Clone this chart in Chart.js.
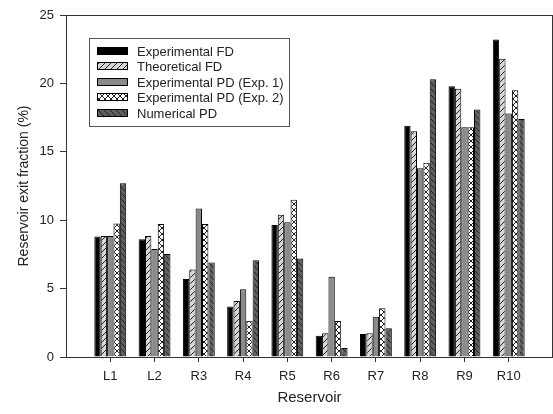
<!DOCTYPE html>
<html>
<head>
<meta charset="utf-8">
<script src="https://cdn.jsdelivr.net/npm/chart.js@4"></script>
<style>
  html, body { margin: 0; padding: 0; background: #fff; }
  #wrap { width: 553px; height: 414px; }
</style>
</head>
<body>
<div id="wrap"><canvas id="chart"></canvas></div>
<script>
// data
const categories = ['L1', 'L2', 'R3', 'R4', 'R5', 'R6', 'R7', 'R8', 'R9', 'R10'];
const experimentalFD = [8.8, 8.6, 5.7, 3.7, 9.65, 1.56, 1.68, 16.9, 19.8, 23.2];
const theoreticalFD  = [8.85, 8.85, 6.4, 4.1, 10.4, 1.73, 1.73, 16.5, 19.6, 21.8];
const experimentalPD1 = [8.85, 7.9, 10.85, 4.95, 9.85, 5.87, 2.95, 13.8, 16.8, 17.8];
const experimentalPD2 = [9.75, 9.72, 9.72, 2.65, 11.5, 2.63, 3.56, 14.2, 16.8, 19.5];
const numericalPD = [12.7, 7.53, 6.9, 7.07, 7.2, 0.66, 2.1, 20.3, 18.1, 17.4];
const yTicks = [0, 5, 10, 15, 20, 25];

// hatch patterns
function makePattern(bg, draw) {
    const c = document.createElement('canvas');
    c.width = 6; c.height = 6;
    const g = c.getContext('2d');
    g.fillStyle = bg;
    g.fillRect(0, 0, 6, 6);
    g.strokeStyle = '#222';
    g.lineWidth = 1;
    g.beginPath();
    draw(g);
    g.stroke();
    return c.getContext('2d').createPattern(c, 'repeat');
}
const slash = g => { g.moveTo(-1, 7); g.lineTo(7, -1); g.moveTo(-1, 1); g.lineTo(1, -1); g.moveTo(5, 7); g.lineTo(7, 5); };
const backslash = g => { g.moveTo(-1, -1); g.lineTo(7, 7); g.moveTo(5, -1); g.lineTo(7, 1); g.moveTo(-1, 5); g.lineTo(1, 7); };

const fillTheo = makePattern('#d6d6d6', slash);
const fillCross = makePattern('#ffffff', g => { slash(g); backslash(g); });
const fillNum = makePattern('#5e5e5e', backslash);

// pad categories so the axis runs from 0 to 11
const labels = ['', ...categories, ''];
const pad = arr => [null, ...arr, null];

const series = [
    { label: 'Experimental FD', data: experimentalFD, fill: '#000000' },
    { label: 'Theoretical FD', data: theoreticalFD, fill: fillTheo },
    { label: 'Experimental PD (Exp. 1)', data: experimentalPD1, fill: '#8a8a8a' },
    { label: 'Experimental PD (Exp. 2)', data: experimentalPD2, fill: fillCross },
    { label: 'Numerical PD', data: numericalPD, fill: fillNum }
];

// legend box and frame lines
const boxLegend = {
    id: 'boxLegend',
    afterDraw(chart) {
        const { ctx, chartArea: { left, right, top, bottom } } = chart;
        ctx.save();
        ctx.strokeStyle = '#333';
        ctx.lineWidth = 1;
        ctx.beginPath();
        ctx.moveTo(left, top + 0.5);
        ctx.lineTo(right, top + 0.5);
        ctx.moveTo(right - 0.5, top);
        ctx.lineTo(right - 0.5, bottom);
        ctx.stroke();

        ctx.strokeStyle = '#555';
        ctx.strokeRect(89.5, 38.5, 200, 88);
        ctx.font = '13px "Liberation Sans", Arial, sans-serif';
        ctx.textBaseline = 'middle';
        chart.data.datasets.forEach((ds, i) => {
            const y = Math.round(50.5 + i * 15.5);
            ctx.fillStyle = ds.backgroundColor;
            ctx.fillRect(97, y - 4, 31, 8);
            ctx.strokeStyle = '#000';
            ctx.strokeRect(97.5, y - 3.5, 30, 7);
            ctx.fillStyle = '#222';
            ctx.fillText(ds.label, 137, y + 1);
        });
        ctx.restore();
    }
};

new Chart(document.getElementById('chart'), {
    type: 'bar',
    data: {
        labels: labels,
        datasets: series.map(s => ({
            label: s.label,
            data: pad(s.data),
            backgroundColor: s.fill,
            borderColor: '#000',
            borderWidth: 1,
            borderSkipped: 'bottom',
            categoryPercentage: 0.72,
            barPercentage: 1
        }))
    },
    options: {
        responsive: true,
        maintainAspectRatio: false,
        animation: false,
        layout: { padding: { top: 15, right: 0, left: 0, bottom: 0 } },
        plugins: {
            legend: { display: false },
            tooltip: { enabled: false }
        },
        scales: {
            x: {
                offset: false,
                afterFit(scale) {
                    scale.height = 57;
                    scale.paddingLeft = 0;
                    scale.paddingRight = 0;
                },
                grid: {
                    offset: false,
                    drawOnChartArea: false,
                    tickLength: 5,
                    tickColor: c => (c.index === 0 || c.index === labels.length - 1) ? 'rgba(0,0,0,0)' : '#333'
                },
                border: { color: '#333' },
                ticks: {
                    color: '#222',
                    padding: 7,
                    maxRotation: 0,
                    autoSkip: false,
                    font: { family: '"Liberation Sans", Arial, sans-serif', size: 13 }
                },
                title: {
                    display: true,
                    text: 'Reservoir',
                    color: '#222',
                    padding: { top: 0, bottom: 7 },
                    font: { family: '"Liberation Sans", Arial, sans-serif', size: 15 }
                }
            },
            y: {
                min: 0,
                max: 25,
                afterFit(scale) { scale.width = 66; },
                afterBuildTicks(scale) { scale.ticks = yTicks.map(v => ({ value: v })); },
                grid: { drawOnChartArea: false, tickLength: 6, tickColor: '#333' },
                border: { color: '#333' },
                ticks: {
                    color: '#222',
                    padding: 6,
                    font: { family: '"Liberation Sans", Arial, sans-serif', size: 13 }
                },
                title: {
                    display: true,
                    text: 'Reservoir exit fraction (%)',
                    color: '#222',
                    padding: { top: 16, bottom: 0 },
                    font: { family: '"Liberation Sans", Arial, sans-serif', size: 14 }
                }
            }
        }
    },
    plugins: [boxLegend]
});
</script>
</body>
</html>
